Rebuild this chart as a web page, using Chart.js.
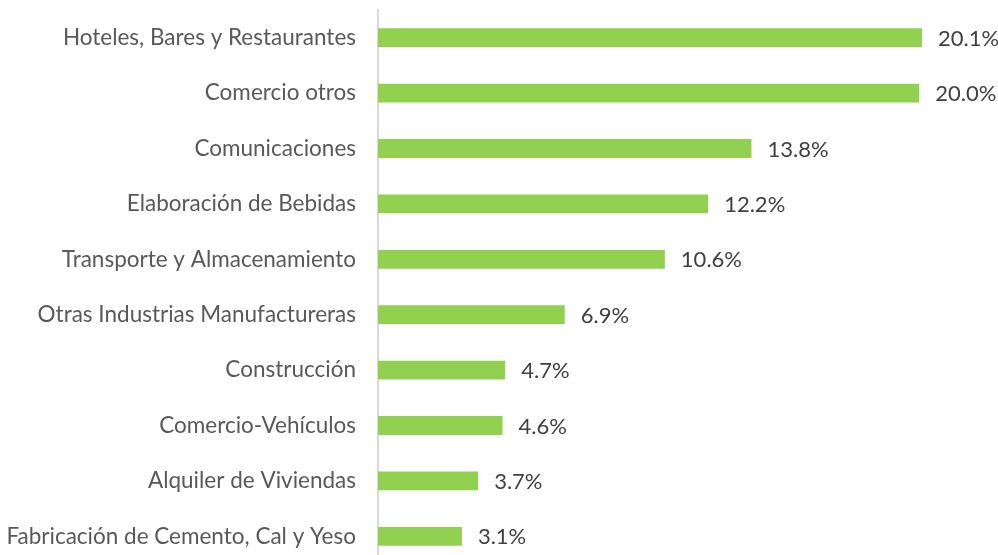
<!DOCTYPE html>
<html>
<head>
<meta charset="utf-8">
<script src="https://cdn.jsdelivr.net/npm/chart.js@4/dist/chart.umd.min.js"></script>
<style>
html,body{margin:0;padding:0;background:#fff;overflow:hidden;}
#wrap{width:998px;height:565px;}
canvas{display:block;}
</style>
</head>
<body>
<div id="wrap"><canvas id="c" width="998" height="565" style="width:998px;height:565px"></canvas></div>
<script>
const categories = [
  "Hoteles, Bares y Restaurantes",
  "Comercio otros",
  "Comunicaciones",
  "Elaboración de Bebidas",
  "Transporte y Almacenamiento",
  "Otras Industrias Manufactureras",
  "Construcción",
  "Comercio-Vehículos",
  "Alquiler de Viviendas",
  "Fabricación de Cemento, Cal y Yeso"
];
const values = [20.1, 20.0, 13.8, 12.2, 10.6, 6.9, 4.7, 4.6, 3.7, 3.1];

const FONT = "Lato, 'Open Sans', sans-serif";

const valueLabels = {
  id: 'valueLabels',
  afterDatasetsDraw(chart) {
    const ctx = chart.ctx;
    const meta = chart.getDatasetMeta(0);
    ctx.save();
    ctx.font = "22px " + FONT;
    ctx.fillStyle = "#404040";
    ctx.textAlign = "left";
    ctx.textBaseline = "middle";
    meta.data.forEach((bar, i) => {
      ctx.fillText(values[i].toFixed(1) + "%", bar.x + 16, bar.y + 1);
    });
    ctx.restore();
  }
};

new Chart(document.getElementById('c'), {
  type: 'bar',
  data: {
    labels: categories,
    datasets: [{
      data: values,
      backgroundColor: '#92D050',
      borderWidth: 0,
      barPercentage: 0.34,
      categoryPercentage: 1.0
    }]
  },
  options: {
    indexAxis: 'y',
    responsive: false,
    maintainAspectRatio: false,
    animation: false,
    layout: { padding: { top: 10, bottom: 1, left: 0, right: 0 } },
    plugins: { legend: { display: false }, tooltip: { enabled: false } },
    scales: {
      x: { display: false, min: 0, max: 22.91 },
      y: {
        offset: true,
        afterFit(scale) { scale.width = 378; scale.paddingTop = 0; scale.paddingBottom = 0; },
        grid: { display: false, drawTicks: false },
        border: { display: true, color: '#d9d9d9', width: 2 },
        ticks: {
          padding: 22,
          color: '#595959',
          font: { family: FONT, size: 22.5 }
        }
      }
    }
  },
  plugins: [valueLabels]
});
</script>
</body>
</html>
